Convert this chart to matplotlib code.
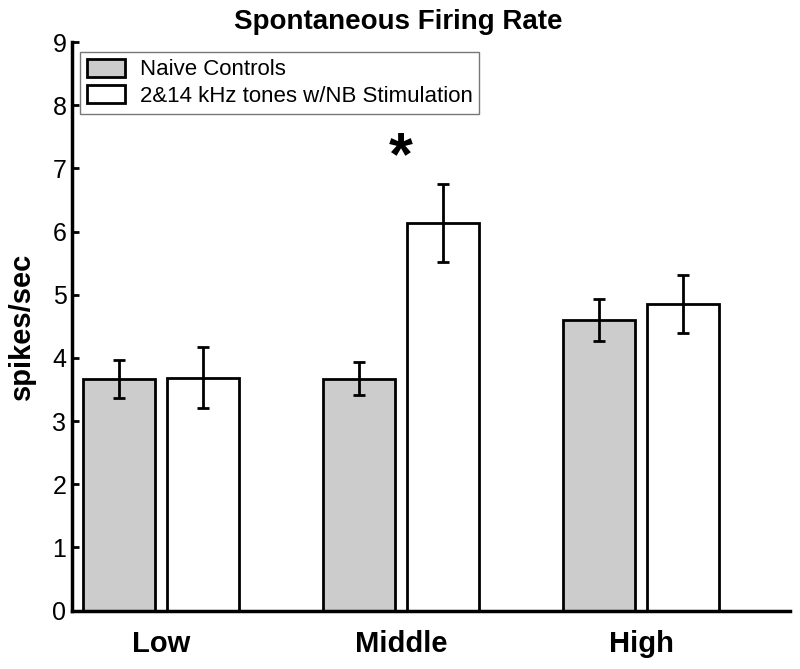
import numpy as np
import matplotlib
matplotlib.use("Agg")
import matplotlib.pyplot as plt

plt.rcParams['font.family'] = ['Liberation Sans', 'DejaVu Sans']

groups = ['Low', 'Middle', 'High']
series = ['Naive Controls', '2&14 kHz tones w/NB Stimulation']
naive = [3.66, 3.67, 4.60]
naive_err = [0.30, 0.26, 0.33]
stim = [3.69, 6.14, 4.85]
stim_err = [0.49, 0.62, 0.46]
colors = ['#cccccc', 'white']

x = np.arange(1, len(groups) + 1)
w = 0.3

fig = plt.figure(figsize=(8, 6.69), dpi=100)
ax = fig.add_axes([0.09, 0.0872, 0.8975, 0.8500])

ekw = dict(elinewidth=2, capthick=2, ecolor='black', capsize=4)
ax.bar(x - 0.175, naive, w, color=colors[0], edgecolor='black', linewidth=2,
       yerr=naive_err, error_kw=ekw, label=series[0], zorder=2)
ax.bar(x + 0.175, stim, w, color=colors[1], edgecolor='black', linewidth=2,
       yerr=stim_err, error_kw=ekw, label=series[1], zorder=2)

# significance marker
ax.text(2, 7.15, '*', ha='center', va='center', fontsize=44, fontweight='bold')

ax.set_xlim(0.63, 3.62)
ax.set_ylim(0, 9)
ax.set_yticks(range(10))
ax.set_xticks(x)
ax.set_xticklabels(groups, fontsize=21, fontweight='bold')
ax.tick_params(axis='x', length=0, pad=14)
ax.tick_params(axis='y', direction='in', length=5, width=2, labelsize=18, pad=4)
for s in ['top', 'right']:
    ax.spines[s].set_visible(False)
for s in ['left', 'bottom']:
    ax.spines[s].set_linewidth(2.5)

ax.set_ylabel('spikes/sec', fontsize=21, fontweight='bold', labelpad=12)
fig.text(0.4975, 0.967, 'Spontaneous Firing Rate', ha='center', va='center',
         fontsize=20, fontweight='bold')

leg = ax.legend(loc='upper left', bbox_to_anchor=(0.011, 0.982), fontsize=16,
                handlelength=1.75, handleheight=0.85, handletextpad=0.65,
                labelspacing=0.22, borderpad=0.3, borderaxespad=0,
                fancybox=False, framealpha=1)
leg.get_frame().set_edgecolor('#777777')
leg.get_frame().set_linewidth(1)
fr = leg.get_frame()

fig.savefig('out.png', dpi=100)
